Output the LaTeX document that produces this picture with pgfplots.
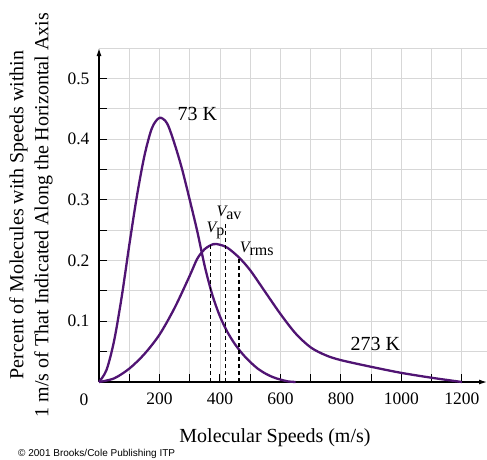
\documentclass[border=0pt]{standalone}
\usepackage{pgfplots}
\pgfplotsset{compat=1.18}
\usepackage{fontspec}
\setmainfont{Liberation Serif}
\newfontfamily\sansf{Liberation Sans}
\usetikzlibrary{arrows.meta}
\definecolor{curve}{RGB}{80,20,115}
\definecolor{gridc}{RGB}{215,215,215}

\begin{document}
\begin{tikzpicture}
\begin{axis}[
  scale only axis, width=388pt, height=334pt,
  xmin=0, xmax=1283, ymin=0, ymax=0.55,
  axis lines=left,
  axis line style={line width=1.2pt, -{Latex[length=8pt,width=5pt]}},
  xtick={100,200,300,400,500,600,700,800,900,1000,1100,1200},
  xticklabels={,200,,400,,600,,800,,1000,,1200},
  ytick={0.05,0.1,0.15,0.2,0.25,0.3,0.35,0.4,0.45,0.5},
  yticklabels={,0.1,,0.2,,0.3,,0.4,,0.5},
  extra y ticks={0.55}, extra y tick labels={},
  extra y tick style={major tick length=0pt},
  tick align=inside, major tick length=8pt,
  tick style={black, line width=1pt},
  grid=major, grid style={gridc, line width=0.9pt},
  /pgf/number format/assume math mode=true,
  tick label style={font=\fontsize{17.5}{20}\selectfont},
  xticklabel style={yshift=-7pt},
  yticklabel style={xshift=-6pt},
  clip=false,
]
\coordinate (O) at (rel axis cs:0,0);

% 73 K
\addplot[curve, line width=2.3pt, smooth] coordinates {
 (0,0) (25,0.02) (50,0.068) (75,0.14) (100,0.225) (125,0.305) (150,0.372)
 (175,0.418) (200,0.435) (225,0.426) (250,0.392) (275,0.35) (300,0.30)
 (325,0.248) (350,0.19) (375,0.143) (400,0.108) (425,0.082) (450,0.062)
 (475,0.046) (500,0.033) (525,0.022) (550,0.014) (575,0.008) (600,0.004)
 (625,0.001) (650,0.0)
};
% 273 K
\addplot[curve, line width=2.3pt, smooth] coordinates {
 (0,0) (50,0.006) (100,0.022) (150,0.046) (200,0.078) (250,0.122) (300,0.175)
 (325,0.203) (350,0.219) (378,0.227) (400,0.226) (425,0.221) (463,0.205)
 (500,0.184) (550,0.148) (600,0.112) (650,0.08) (700,0.057) (750,0.044)
 (800,0.036) (900,0.025) (1000,0.015) (1100,0.007) (1200,0.0)
};
% characteristic speeds
\addplot[black, line width=1.1pt, dash pattern=on 4pt off 3pt] coordinates {(370,0) (370,0.226)};
\addplot[black, line width=1.1pt, dash pattern=on 4pt off 3pt] coordinates {(419,0) (419,0.262)};
\addplot[black, line width=1.1pt, dash pattern=on 4pt off 3pt] coordinates {(463,0) (463,0.205)};

\node[anchor=base west, inner sep=0pt, font=\fontsize{16}{18}\selectfont] at (axis cs:355,0.247) {\itshape V\upshape\raisebox{-3pt}{p}};
\node[anchor=base west, inner sep=0pt, font=\fontsize{16}{18}\selectfont] at (axis cs:388,0.273) {\itshape V\upshape\raisebox{-3pt}{av}};
\node[anchor=base west, inner sep=0pt, font=\fontsize{16}{18}\selectfont] at (axis cs:465,0.214) {\itshape V\upshape\raisebox{-3pt}{rms}};

\node[anchor=base west, inner sep=0pt, font=\fontsize{20}{24}\selectfont] at (axis cs:259,0.43) {73 K};
\node[anchor=base west, inner sep=0pt, font=\fontsize{20}{24}\selectfont] at (axis cs:831,0.0527) {273 K};
\end{axis}

\node[font=\fontsize{17.5}{20}\selectfont] at ([shift={(-15pt,-18pt)}]O) {0};
\node[rotate=90, align=center, font=\fontsize{20}{25}\selectfont] at ([shift={(-68pt,167pt)}]O)
  {Percent of Molecules with Speeds within\\1 m/s of That Indicated Along the Horizontal Axis};
\node[font=\fontsize{20}{24}\selectfont] at ([shift={(176pt,-56pt)}]O) {Molecular Speeds (m/s)};
\node[anchor=west, inner sep=0pt, font=\sansf\fontsize{10}{12}\selectfont] at ([shift={(-81pt,-72pt)}]O) {© 2001 Brooks/Cole Publishing ITP};

\pgfresetboundingbox
\path ([shift={(-99pt,-77pt)}]O) rectangle ([shift={(388pt,382pt)}]O);
\end{tikzpicture}
\end{document}
